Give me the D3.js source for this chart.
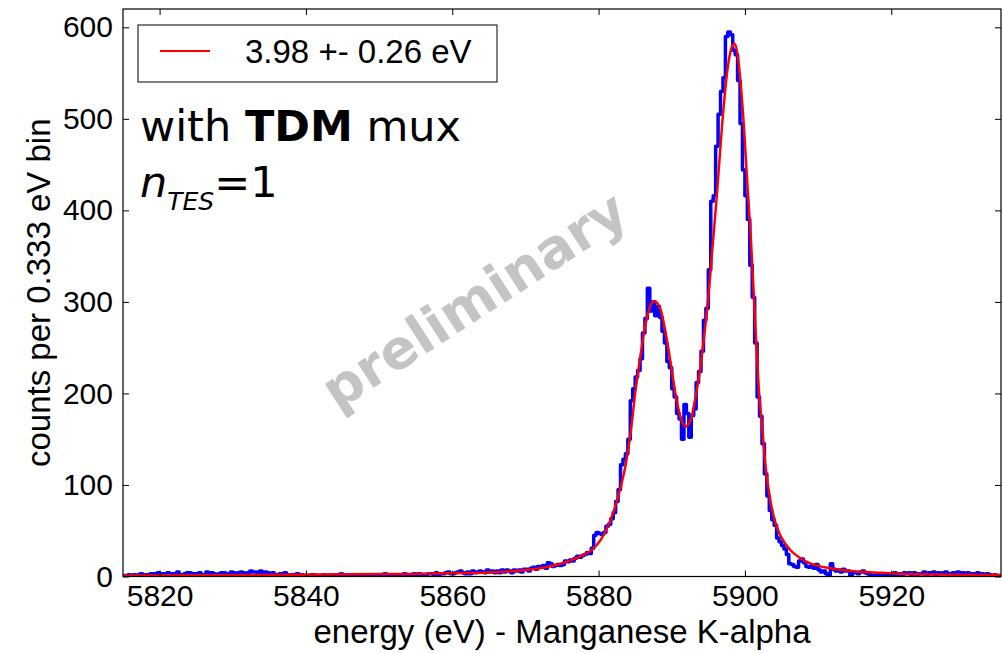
<!DOCTYPE html>
<html>
<head>
<meta charset="utf-8">
<script src="https://cdn.jsdelivr.net/npm/d3@7"></script>
<style>
  body { margin: 0; background: #fff; }
  .tick text { font-family: "Liberation Sans", Arial, sans-serif; font-size: 30px; fill: #000; }
  .axis-label { font-family: "Liberation Sans", Arial, sans-serif; font-size: 33px; fill: #000; }
  .note { font-family: "DejaVu Sans", sans-serif; fill: #000; }
</style>
</head>
<body>
<div id="d3-container"></div>
<script>
/* CONSTANTS AND GLOBALS */
const width = 1003,
  height = 653,
  margin = { top: 9, bottom: 76.5, left: 123, right: 2 };

// histogram: 360 bins of 1/3 eV starting at 5815 eV
const binStart = 5815;
const binWidth = 1 / 3;
const counts = [
  1,0,2, 1,2,1, 2,3,1, 2,1,3, 3,2,4,
  2,3,2, 4,2,3, 3,5,2, 2,3,4, 4,2,3,
  3,4,2, 2,5,3, 4,3,2, 3,4,4, 2,3,5,
  4,3,4, 5,4,3, 4,6,5, 5,4,6, 3,5,4,
  3,4,2, 2,3,1, 4,2,1, 2,1,3, 1,2,0,
  1,0,2, 2,1,0, 1,2,1, 0,2,1, 2,1,3,
  1,2,0, 2,1,2, 0,1,2, 2,1,1, 0,2,1,
  2,1,3, 1,2,1, 2,0,2, 1,3,2, 2,1,3,
  2,3,1, 1,2,3, 3,2,4, 2,3,3, 4,5,3,
  3,4,5, 6,4,3, 5,3,6, 4,5,6, 5,4,7,
  5,6,4, 6,4,7, 5,7,6, 4,7,6, 7,5,8,
  8,6,9, 10,8,11, 10,12,9, 15,14,11, 12,13,12,
  13,17,16, 18,17,20, 22,21,23, 24,26,25, 31,45,48,
  47,46,48, 55,57,63, 70,82,95, 122,128,134, 150,192,205,
  218,225,238, 266,282,315, 290,300,285, 295,283,268, 255,235,228,
  205,196,178, 172,150,188, 178,152,176, 183,212,224, 246,280,293,
  335,410,416, 470,505,530, 545,590,595, 592,575,570, 542,495,444,
  416,390,340, 305,255,196, 175,145,112, 88,72,62, 56,42,38,
  34,30,24, 14,13,11, 10,17,19, 15,11,10, 12,9,13,
  7,5,6, 3,0,14, 8,6,7, 5,8,6, 6,0,5,
  4,3,5, 6,4,3, 2,1,0, 3,0,2, 1,3,2,
  2,4,1, 3,2,4, 3,4,2, 4,2,3, 3,5,2,
  4,3,5, 2,4,3, 4,5,3, 3,4,2, 5,3,4,
  2,4,3, 3,2,4, 2,3,1, 3,2,1, 2,0,1
];

// fitted line shape
const fitEnergy = [5815, 5825, 5839.2, 5850, 5859.7, 5866.6, 5869.3, 5872.0, 5874.8, 5877.5,
  5878.9, 5880.3, 5881.6, 5883.0, 5883.7, 5884.4, 5885.0, 5885.7, 5886.4, 5887.1,
  5887.6, 5888.5, 5889.1, 5889.8, 5890.5, 5891.2, 5891.9, 5892.6, 5893.2, 5893.9,
  5894.6, 5895.0, 5895.5, 5896.2, 5896.9, 5897.6, 5898.3, 5898.6, 5899.0, 5899.4,
  5899.9, 5900.3, 5900.8, 5901.2, 5901.5, 5901.9, 5902.4, 5902.8, 5903.5, 5904.2,
  5904.9, 5906.2, 5907.6, 5909.0, 5911.7, 5914.5, 5918.6, 5921.3, 5928, 5935];
const fitCounts = [1.2, 1.4, 2, 2.6, 3.5, 5, 6.5, 9, 14, 22,
  28, 40, 61, 97, 122, 158, 200, 240, 275, 296,
  301, 291, 269, 236, 200, 174, 164, 171, 194, 228,
  275, 305, 353, 420, 495, 553, 580, 582, 570, 540,
  487, 433, 371, 310, 262, 205, 160, 122, 82, 58,
  44, 29, 20, 14, 9, 6, 4, 3, 2, 1.5];

const xTicks = [5820, 5840, 5860, 5880, 5900, 5920];
const yTicks = [0, 100, 200, 300, 400, 500, 600];
const legendText = "3.98 +- 0.26 eV";

let svg;
let xScale;
let yScale;

function init() {
  xScale = d3.scaleLinear()
    .domain([5815, 5935])
    .range([margin.left, width - margin.right]);

  yScale = d3.scaleLinear()
    .domain([0, 620])
    .range([height - margin.bottom, margin.top]);

  svg = d3.select("#d3-container")
    .append("svg")
    .attr("width", width)
    .attr("height", height);

  svg.append("defs").append("clipPath")
    .attr("id", "plot-clip")
    .append("rect")
    .attr("x", margin.left)
    .attr("y", margin.top)
    .attr("width", width - margin.right - margin.left)
    .attr("height", height - margin.bottom - margin.top);

  // histogram as steps
  const histData = counts.map((c, i) => ({ e: binStart + i * binWidth, c: c }));
  histData.push({ e: binStart + counts.length * binWidth, c: counts[counts.length - 1] });

  const stepLine = d3.line()
    .x(d => xScale(d.e))
    .y(d => yScale(d.c))
    .curve(d3.curveStepAfter);

  const plot = svg.append("g").attr("clip-path", "url(#plot-clip)");

  plot.append("path")
    .datum(histData)
    .attr("fill", "none")
    .attr("stroke", "#0000ff")
    .attr("stroke-width", 3.5)
    .attr("stroke-linejoin", "round")
    .attr("d", stepLine);

  const fitLine = d3.line()
    .x((d, i) => xScale(fitEnergy[i]))
    .y(d => yScale(d))
    .curve(d3.curveMonotoneX);

  plot.append("path")
    .datum(fitCounts)
    .attr("fill", "none")
    .attr("stroke", "#ff0000")
    .attr("stroke-width", 2.5)
    .attr("d", fitLine);

  // axes: ticks pointing inward on all four sides
  const bottom = height - margin.bottom;
  svg.append("g")
    .attr("class", "axis x-axis")
    .attr("transform", `translate(0,${bottom})`)
    .call(d3.axisBottom(xScale).tickValues(xTicks).tickFormat(d3.format("d"))
      .tickSize(-6).tickSizeOuter(0).tickPadding(8));

  svg.append("g")
    .attr("class", "axis y-axis")
    .attr("transform", `translate(${margin.left},0)`)
    .call(d3.axisLeft(yScale).tickValues(yTicks).tickSize(-6).tickSizeOuter(0).tickPadding(10));

  svg.append("g")
    .attr("transform", `translate(0,${margin.top})`)
    .call(d3.axisTop(xScale).tickValues(xTicks).tickSize(-6).tickSizeOuter(0).tickFormat(""));

  svg.append("g")
    .attr("transform", `translate(${width - margin.right},0)`)
    .call(d3.axisRight(yScale).tickValues(yTicks).tickSize(-6).tickSizeOuter(0).tickFormat(""));

  svg.selectAll(".domain").remove();
  svg.selectAll(".tick line").attr("stroke", "#000").attr("stroke-width", 1);

  svg.append("rect")
    .attr("x", margin.left)
    .attr("y", margin.top)
    .attr("width", width - margin.right - margin.left)
    .attr("height", bottom - margin.top)
    .attr("fill", "none")
    .attr("stroke", "#000")
    .attr("stroke-width", 1.2);

  // axis labels
  svg.append("text")
    .attr("class", "axis-label")
    .attr("x", (margin.left + width - margin.right) / 2)
    .attr("y", 643)
    .attr("text-anchor", "middle")
    .text("energy (eV) - Manganese K-alpha");

  svg.append("text")
    .attr("class", "axis-label")
    .attr("transform", `translate(50,${(margin.top + bottom) / 2}) rotate(-90)`)
    .attr("text-anchor", "middle")
    .text("counts per 0.333 eV bin");

  // legend
  const legend = svg.append("g");
  legend.append("rect")
    .attr("x", 138).attr("y", 25)
    .attr("width", 359).attr("height", 57)
    .attr("fill", "#fff")
    .attr("stroke", "#000")
    .attr("stroke-width", 1);
  legend.append("line")
    .attr("x1", 160).attr("x2", 210)
    .attr("y1", 51).attr("y2", 51)
    .attr("stroke", "#ff0000")
    .attr("stroke-width", 2);
  legend.append("text")
    .attr("class", "axis-label")
    .attr("x", 245).attr("y", 63)
    .style("font-size", "33px")
    .text(legendText);

  // annotation
  const note1 = svg.append("text")
    .attr("class", "note")
    .attr("x", 140).attr("y", 141)
    .style("font-size", "43px");
  note1.append("tspan").text("with ");
  note1.append("tspan").attr("font-weight", "bold").text("TDM");
  note1.append("tspan").text(" mux");

  const note2 = svg.append("text")
    .attr("class", "note")
    .attr("x", 140).attr("y", 197)
    .style("font-size", "43px");
  note2.append("tspan").attr("font-style", "italic").text("n");
  note2.append("tspan").attr("font-style", "italic").attr("dy", 13)
    .style("font-size", "25px").text("TES");
  note2.append("tspan").attr("dy", -13).text("=1");

  // watermark
  svg.append("text")
    .attr("transform", "translate(474,300) rotate(-33)")
    .attr("text-anchor", "middle")
    .attr("dy", "0.35em")
    .attr("font-family", "DejaVu Sans, sans-serif")
    .attr("font-weight", "bold")
    .attr("font-size", 54)
    .attr("fill", "#c4c4c4")
    .text("preliminary");
}

init();
</script>
</body>
</html>
